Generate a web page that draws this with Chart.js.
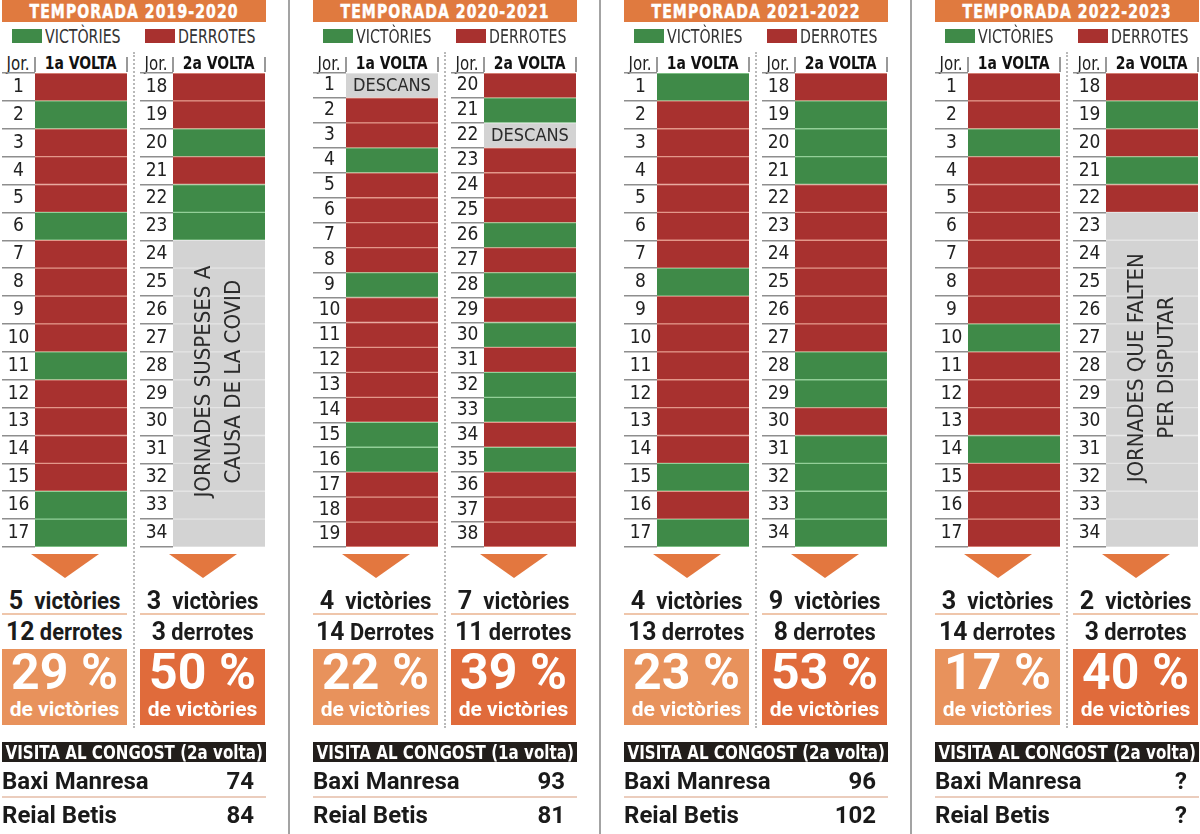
<!DOCTYPE html>
<html>
<head>
<meta charset="utf-8">
<script src="https://cdn.jsdelivr.net/npm/chart.js@4.4.1/dist/chart.umd.min.js"></script>
<style>
  body { margin: 0; background: #fff; }
  #page { position: relative; width: 1200px; height: 834px; overflow: hidden; background: #fff; }
  #page div { position: absolute; white-space: nowrap; }
  canvas { position: absolute; }
</style>
</head>
<body>
<div id="page"></div>
<script>
// Basket results by season: W = victòria, L = derrota, R = descans, S = sense jugar
const seasons = ['TEMPORADA 2019-2020', 'TEMPORADA 2020-2021', 'TEMPORADA 2021-2022', 'TEMPORADA 2022-2023'];

const days1920a = ['1', '2', '3', '4', '5', '6', '7', '8', '9', '10', '11', '12', '13', '14', '15', '16', '17'];
const res1920a = ['L', 'W', 'L', 'L', 'L', 'W', 'L', 'L', 'L', 'L', 'W', 'L', 'L', 'L', 'L', 'W', 'W'];
const days1920b = ['18', '19', '20', '21', '22', '23', '24', '25', '26', '27', '28', '29', '30', '31', '32', '33', '34'];
const res1920b = ['L', 'L', 'W', 'L', 'W', 'W', 'S', 'S', 'S', 'S', 'S', 'S', 'S', 'S', 'S', 'S', 'S'];

const days2021a = ['1', '2', '3', '4', '5', '6', '7', '8', '9', '10', '11', '12', '13', '14', '15', '16', '17', '18', '19'];
const res2021a = ['R', 'L', 'L', 'W', 'L', 'L', 'L', 'L', 'W', 'L', 'L', 'L', 'L', 'L', 'W', 'W', 'L', 'L', 'L'];
const days2021b = ['20', '21', '22', '23', '24', '25', '26', '27', '28', '29', '30', '31', '32', '33', '34', '35', '36', '37', '38'];
const res2021b = ['L', 'W', 'R', 'L', 'L', 'L', 'W', 'L', 'W', 'L', 'W', 'L', 'W', 'W', 'L', 'W', 'L', 'L', 'L'];

const days2122a = ['1', '2', '3', '4', '5', '6', '7', '8', '9', '10', '11', '12', '13', '14', '15', '16', '17'];
const res2122a = ['W', 'L', 'L', 'L', 'L', 'L', 'L', 'W', 'L', 'L', 'L', 'L', 'L', 'L', 'W', 'L', 'W'];
const days2122b = ['18', '19', '20', '21', '22', '23', '24', '25', '26', '27', '28', '29', '30', '31', '32', '33', '34'];
const res2122b = ['L', 'W', 'W', 'W', 'L', 'L', 'L', 'L', 'L', 'L', 'W', 'W', 'L', 'W', 'W', 'W', 'W'];

const days2223a = ['1', '2', '3', '4', '5', '6', '7', '8', '9', '10', '11', '12', '13', '14', '15', '16', '17'];
const res2223a = ['L', 'L', 'W', 'L', 'L', 'L', 'L', 'L', 'L', 'W', 'L', 'L', 'L', 'W', 'L', 'L', 'L'];
const days2223b = ['18', '19', '20', '21', '22', '23', '24', '25', '26', '27', '28', '29', '30', '31', '32', '33', '34'];
const res2223b = ['L', 'W', 'L', 'W', 'L', 'S', 'S', 'S', 'S', 'S', 'S', 'S', 'S', 'S', 'S', 'S', 'S'];

const notes = [['JORNADES SUSPESES A', 'CAUSA DE LA COVID'], null, null, ['JORNADES QUE FALTEN', 'PER DISPUTAR']];

const winsFirst = ['5', '4', '4', '3'];
const lossesFirst = ['12', '14', '13', '14'];
const lossWordFirst = ['derrotes', 'Derrotes', 'derrotes', 'derrotes'];
const winsSecond = ['3', '7', '9', '2'];
const lossesSecond = ['3', '11', '8', '3'];
const pctFirst = ['29 %', '22 %', '23 %', '17 %'];
const pctSecond = ['50 %', '39 %', '53 %', '40 %'];
const visitRound = ['(2a volta)', '(1a volta)', '(2a volta)', '(2a volta)'];
const scoreManresa = ['74', '93', '96', '?'];
const scoreBetis = ['84', '81', '102', '?'];

const NARROW = "'Liberation Sans Narrow', 'DejaVu Sans Condensed', 'Roboto', sans-serif";
const BOLD = "'Roboto', 'Liberation Sans', sans-serif";
const ORANGE = '#e07a3f';
const cellFill = { W: '#3f8a48', L: '#a8312f', R: '#d3d3d3', S: '#d3d3d3' };
const cellEdge = { W: '#93cf98', L: '#e3978a', R: '#e9e9e9', S: '#e4e4e4' };

const PANEL_X = [2, 313, 624, 935];
const JOR_W = 33;
const COL_W = 125;
const GRID_TOP = 72;
const GRID_H = 476;

Chart.defaults.font.family = NARROW;

const page = document.getElementById('page');
const measureCtx = document.createElement('canvas').getContext('2d');
measureCtx.font = `19px ${NARROW}`;

function add(css, text) {
  const d = document.createElement('div');
  d.style.cssText = css;
  if (text !== undefined) d.innerHTML = text;
  page.appendChild(d);
  return d;
}

// text squeezed horizontally, since no narrow font is installed
function addText(left, top, width, align, css, text, sx) {
  let l = left;
  let w = width;
  if (align === 'center') { l = left + width / 2 - 200; w = 400; }
  const outer = add(`left:${l}px;top:${top}px;width:${w}px;text-align:${align};` + css);
  const span = document.createElement('span');
  span.style.cssText = `display:inline-block;transform:scaleX(${sx || 1});transform-origin:${align} center;`;
  span.innerHTML = text;
  outer.appendChild(span);
  return outer;
}

const cellText = {
  id: 'cellText',
  afterDatasetsDraw(chart, args, opts) {
    const meta = chart.getDatasetMeta(0);
    const res = opts.results;
    const ctx = chart.ctx;
    ctx.save();
    ctx.fillStyle = '#2b2b2b';
    ctx.textAlign = 'center';
    ctx.textBaseline = 'middle';
    ctx.font = `18px ${NARROW}`;
    meta.data.forEach((bar, i) => {
      if (res[i] === 'R') ctx.fillText('DESCANS', (bar.x + bar.base) / 2, bar.y + 1);
    });
    if (opts.note) {
      const idx = res.map((r, i) => (r === 'S' ? i : -1)).filter((i) => i >= 0);
      const first = meta.data[idx[0]];
      const last = meta.data[idx[idx.length - 1]];
      const top = first.y - first.height / 2;
      const bottom = last.y + last.height / 2;
      ctx.translate((first.x + first.base) / 2, (top + bottom) / 2 - 12);
      ctx.rotate(-Math.PI / 2);
      ctx.font = `22px ${NARROW}`;
      opts.note.forEach((line, k) => {
        ctx.fillText(line, 0, (k - (opts.note.length - 1) / 2) * 30);
      });
    }
    ctx.restore();
  }
};

function drawColumn(left, days, results, note) {
  const cv = document.createElement('canvas');
  cv.width = COL_W;
  cv.height = GRID_H;
  cv.style.left = left + 'px';
  cv.style.top = GRID_TOP + 'px';
  page.appendChild(cv);

  const widest = Math.max(...days.map((d) => measureCtx.measureText(d).width));

  new Chart(cv, {
    type: 'bar',
    data: {
      labels: days,
      datasets: [{
        data: results.map(() => 1),
        backgroundColor: results.map((r) => cellFill[r]),
        borderColor: results.map((r) => cellEdge[r]),
        borderWidth: { top: 1, bottom: 1, left: 0, right: 0 },
        borderSkipped: false,
        barPercentage: 1,
        categoryPercentage: 1
      }]
    },
    options: {
      indexAxis: 'y',
      responsive: false,
      animation: false,
      events: [],
      layout: { padding: { top: 1, bottom: 1, left: 0, right: 0 } },
      plugins: {
        legend: { display: false },
        tooltip: { enabled: false },
        cellText: { results, note }
      },
      scales: {
        x: { display: false, min: 0, max: 1 },
        y: {
          border: { display: false },
          grid: {
            drawOnChartArea: false,
            drawTicks: true,
            tickLength: JOR_W,
            color: '#8e8e8e',
            lineWidth: 1.5
          },
          ticks: {
            autoSkip: false,
            crossAlign: 'center',
            padding: -JOR_W / 2 - widest / 2,
            color: '#222',
            font: { size: 19, family: NARROW }
          },
          afterFit: (scale) => { scale.width = JOR_W; }
        }
      }
    },
    plugins: [cellText]
  });
}

const columns = [
  [days1920a, res1920a, days1920b, res1920b],
  [days2021a, res2021a, days2021b, res2021b],
  [days2122a, res2122a, days2122b, res2122b],
  [days2223a, res2223a, days2223b, res2223b]
];

seasons.forEach((title, i) => {
  const x = PANEL_X[i];

  // panel separator
  if (i < 3) add(`left:${x + 286}px;top:0;width:2px;height:834px;background:#a3a3a3;`);

  // title bar
  add(`left:${x}px;top:0;width:264px;height:22px;background:${ORANGE};`);
  addText(x, 0, 264, 'center', `color:#fff;font:bold 20px ${NARROW};line-height:23px;letter-spacing:1.4px;-webkit-text-stroke:0.5px #fff;`, title, 0.78);

  // legend
  add(`left:${x + 10}px;top:29px;width:30px;height:14px;background:${cellFill.W};`);
  addText(x + 43, 25, 100, 'left', `font:19px ${NARROW};color:#333;line-height:22px;`, 'VICTÒRIES', 0.83);
  add(`left:${x + 143}px;top:29px;width:30px;height:14px;background:${cellFill.L};`);
  addText(x + 176, 25, 100, 'left', `font:19px ${NARROW};color:#333;line-height:22px;`, 'DERROTES', 0.83);

  // dotted divider between the two rounds
  add(`left:${x + 131}px;top:52px;height:676px;border-left:2px dotted #b9b9b9;`);

  [0, 138].forEach((off, k) => {
    const cx = x + off;
    // column headers
    addText(cx, 53, JOR_W, 'center', `font:19px ${NARROW};color:#222;line-height:20px;`, 'Jor.', 0.88);
    addText(cx + JOR_W, 53, 92, 'center', `font:bold 18px ${NARROW};color:#111;line-height:20px;`,
        k === 0 ? '1a VOLTA' : '2a VOLTA', 0.86);
    add(`left:${cx + JOR_W - 1}px;top:57px;width:1.5px;height:15px;background:#999;`);
    add(`left:${cx + COL_W - 1}px;top:57px;width:1.5px;height:15px;background:#999;`);

    drawColumn(cx, columns[i][k * 2], columns[i][k * 2 + 1], k === 1 ? notes[i] : null);

    // arrow
    add(`left:${cx + COL_W / 2 - 34}px;top:554px;width:0;height:0;border-left:34px solid transparent;` +
        `border-right:34px solid transparent;border-top:24px solid #e3773f;`);

    // tallies
    const wins = k === 0 ? winsFirst[i] : winsSecond[i];
    const losses = k === 0 ? lossesFirst[i] : lossesSecond[i];
    const lossWord = k === 0 ? lossWordFirst[i] : 'derrotes';
    addText(cx, 586, COL_W, 'center', `font:bold 23px ${BOLD};color:#1b1b1b;line-height:28px;`,
        `<span style="font-size:26px">${wins}</span>&nbsp;&nbsp;victòries`, 0.97);
    add(`left:${cx}px;top:613px;width:${COL_W}px;height:2px;background:#efc6ab;`);
    addText(cx, 617, COL_W, 'center', `font:bold 23px ${BOLD};color:#1b1b1b;line-height:28px;`,
        `<span style="font-size:26px">${losses}</span>&nbsp;${lossWord}`, 0.95);

    // percentage box
    const pct = k === 0 ? pctFirst[i] : pctSecond[i];
    add(`left:${cx}px;top:649px;width:${COL_W}px;height:76px;background:${k === 0 ? '#e8925c' : '#e06b3b'};`);
    addText(cx, 645, COL_W, 'center', `font:bold 50px ${BOLD};color:#fff;line-height:54px;`, pct, 1);
    addText(cx, 696, COL_W, 'center', `font:bold 21px ${BOLD};color:#fff;line-height:26px;`, 'de victòries', 1);
  });

  // visit box
  add(`left:${x}px;top:742px;width:264px;height:20px;background:#221e1b;`);
  addText(x, 742, 264, 'center', `color:#fff;font:bold 20px ${NARROW};line-height:21px;`,
      'VISITA AL CONGOST ' + visitRound[i], 0.84);
  addText(x, 766, 200, 'left', `font:bold 24px ${BOLD};color:#1a1a1a;line-height:30px;`, 'Baxi Manresa', 1);
  addText(x + 150, 766, 102, 'right', `font:bold 24px ${BOLD};color:#1a1a1a;line-height:30px;`, scoreManresa[i], 1);
  add(`left:${x}px;top:796px;width:264px;height:2px;background:#ebcdbd;`);
  addText(x, 800, 200, 'left', `font:bold 24px ${BOLD};color:#1a1a1a;line-height:30px;`, 'Reial Betis', 1);
  addText(x + 150, 800, 102, 'right', `font:bold 24px ${BOLD};color:#1a1a1a;line-height:30px;`, scoreBetis[i], 1);
});
</script>
</body>
</html>
